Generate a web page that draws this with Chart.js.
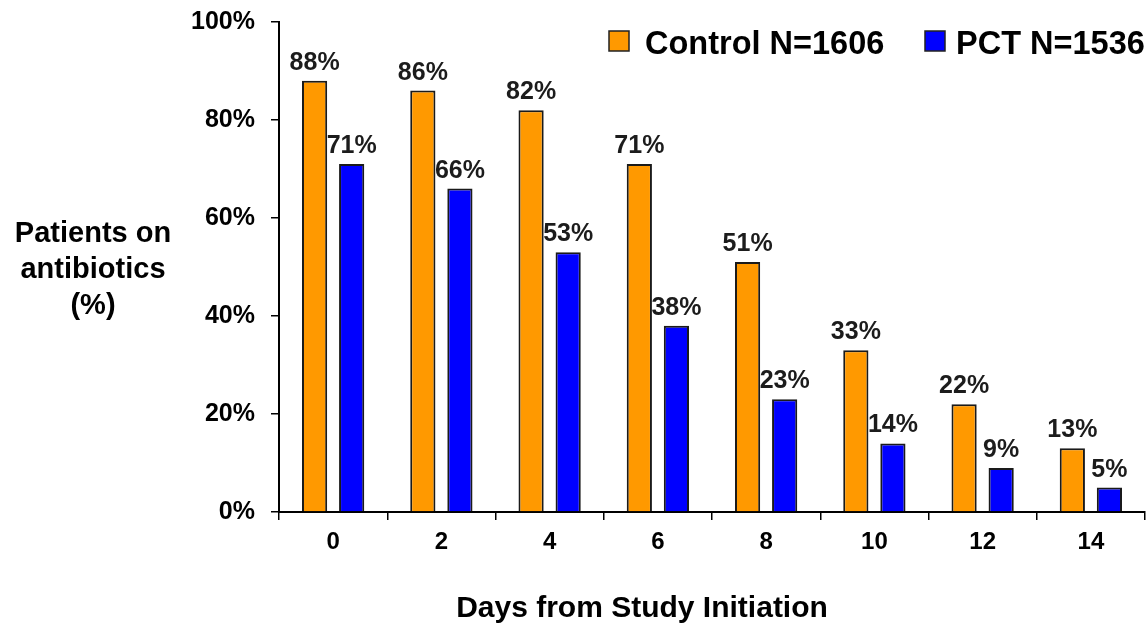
<!DOCTYPE html>
<html>
<head>
<meta charset="utf-8">
<script src="https://cdn.jsdelivr.net/npm/chart.js@4"></script>
<style>
  body { margin: 0; background: #fff; }
  .grafica { width: 1148px; height: 624px; position: relative; }
</style>
</head>
<body>
<div class="grafica">
  <canvas id="graficaAntibioticos"></canvas>
</div>
<script>
const dias = ['0', '2', '4', '6', '8', '10', '12', '14'];
const control = [88, 86, 82, 71, 51, 33, 22, 13];   // Control N=1606
const pct = [71, 66, 53, 38, 23, 14, 9, 5];          // PCT N=1536
const ticksY = [0, 20, 40, 60, 80, 100];

const FUENTE = '"Liberation Sans", Arial, sans-serif';

// etiquetas de valor encima de cada barra
const etiquetas = {
  id: 'etiquetas',
  afterDatasetsDraw(chart) {
    const ctx = chart.ctx;
    ctx.save();
    ctx.font = 'bold 25px ' + FUENTE;
    ctx.fillStyle = '#1c1c1c';
    ctx.textAlign = 'center';
    ctx.textBaseline = 'alphabetic';
    chart.data.datasets.forEach((ds, i) => {
      chart.getDatasetMeta(i).data.forEach((bar, j) => {
        ctx.fillText(ds.data[j] + '%', bar.x, bar.y - 11);
      });
    });
    ctx.restore();
  }
};

// titulos de ejes y leyenda propia
const textos = {
  id: 'textos',
  afterDraw(chart) {
    const ctx = chart.ctx;
    ctx.save();
    ctx.fillStyle = '#000';
    ctx.font = 'bold 29px ' + FUENTE;
    ctx.textAlign = 'center';
    ctx.textBaseline = 'middle';
    ['Patients on', 'antibiotics', '(%)'].forEach((t, i) => {
      ctx.fillText(t, 93, 234 + i * 36);
    });

    ctx.font = 'bold 30px ' + FUENTE;
    ctx.textBaseline = 'alphabetic';
    ctx.fillText('Days from Study Initiation', 642, 617);

    const items = [
      { texto: 'Control N=1606', color: chart.data.datasets[0].backgroundColor, x: 609, tx: 645 },
      { texto: 'PCT N=1536', color: chart.data.datasets[1].backgroundColor, x: 925, tx: 956 }
    ];
    ctx.font = 'bold 32.5px ' + FUENTE;
    ctx.textAlign = 'left';
    items.forEach(it => {
      ctx.fillStyle = it.color;
      ctx.fillRect(it.x, 31, 20, 20);
      ctx.strokeStyle = '#222';
      ctx.lineWidth = 1.5;
      ctx.strokeRect(it.x, 31, 20, 20);
      ctx.fillStyle = '#000';
      ctx.fillText(it.texto, it.tx, 54);
    });
    ctx.restore();
  }
};

new Chart(document.getElementById('graficaAntibioticos'), {
  type: 'bar',
  data: {
    labels: dias,
    datasets: [
      {
        label: 'Control N=1606',
        data: control,
        backgroundColor: '#FF9900',
        borderColor: '#1a1a1a',
        borderWidth: 2
      },
      {
        label: 'PCT N=1536',
        data: pct,
        backgroundColor: '#0000FF',
        borderColor: '#1a1a1a',
        borderWidth: 2
      }
    ]
  },
  options: {
    responsive: true,
    maintainAspectRatio: false,
    animation: false,
    categoryPercentage: 0.685,
    barPercentage: 0.68,
    layout: { padding: { top: 22, right: 3, left: 0, bottom: 0 } },
    plugins: {
      legend: { display: false },
      tooltip: { enabled: false }
    },
    scales: {
      x: {
        grid: { drawOnChartArea: false, tickLength: 8, color: '#000', lineWidth: 1.5 },
        border: { color: '#000', width: 2 },
        ticks: { color: '#000', font: { family: FUENTE, size: 24, weight: 'bold' }, padding: 8 },
        afterFit(scale) {
          scale.height = 112;
          scale.paddingLeft = 0;
          scale.paddingRight = 0;
        }
      },
      y: {
        min: 0,
        max: 100,
        afterBuildTicks(scale) { scale.ticks = ticksY.map(v => ({ value: v })); },
        grid: { drawOnChartArea: false, tickLength: 8, color: '#000', lineWidth: 1.5 },
        border: { color: '#000', width: 2 },
        ticks: {
          color: '#000',
          font: { family: FUENTE, size: 25, weight: 'bold' },
          padding: 16,
          callback: v => v + '%'
        },
        afterFit(scale) {
          scale.width = 279;
          scale.paddingTop = 0;
          scale.paddingBottom = 0;
        }
      }
    }
  },
  plugins: [etiquetas, textos]
});
</script>
</body>
</html>
